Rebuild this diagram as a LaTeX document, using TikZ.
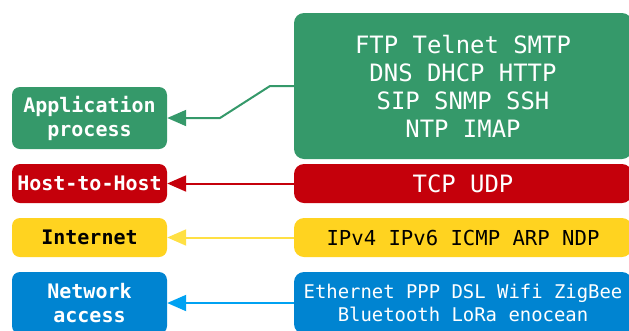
\documentclass[tikz,border=0pt]{standalone}
\usepackage{fontspec}
\newfontfamily\monofont{DejaVu Sans Mono}
\usetikzlibrary{arrows.meta}
\definecolor{cgreen}{HTML}{35996A}
\definecolor{cred}{HTML}{C5000B}
\definecolor{cyellow}{HTML}{FFD320}
\definecolor{cblue}{HTML}{0084D1}
\definecolor{cyellowline}{HTML}{FFE044}
\definecolor{cblueline}{HTML}{00A2F2}
\tikzset{
  layerbox/.style={rectangle, rounded corners=8pt, inner sep=0pt, minimum width=155pt, align=center, font=\monofont\bfseries\fontsize{20}{24}\selectfont},
  protobox/.style={rectangle, rounded corners=10pt, inner sep=0pt, minimum width=338pt, align=center},
  conn/.style={line width=2pt, -{Triangle[length=19pt,width=16pt]}},
}
\begin{document}
\begin{tikzpicture}[x=1pt,y=-1pt]
\useasboundingbox (0,0) rectangle (629,330);
\begin{scope}
\clip (0,0) rectangle (629,330);
% left layer boxes
\node[layerbox, fill=cgreen, text=white, minimum height=62pt] (app) at (89.5,118) {Application\\process};
\node[layerbox, fill=cred, text=white, minimum height=39pt] (host) at (89.5,183.5) {Host-to-Host};
\node[layerbox, fill=cyellow, text=black, minimum height=39pt] (inet) at (89.5,237.5) {Internet};
\node[layerbox, fill=cblue, text=white, minimum height=62pt] (net) at (89.5,303) {Network\\access};
% right protocol boxes
\node[protobox, fill=cgreen, text=white, minimum height=146pt, font=\monofont\fontsize{23.9}{28}\selectfont] (papp) at (463,86) {FTP Telnet SMTP\\DNS DHCP HTTP\\SIP SNMP SSH\\NTP IMAP};
\node[protobox, fill=cred, text=white, minimum height=39pt, font=\monofont\fontsize{23.9}{28}\selectfont] (phost) at (463,183.5) {TCP UDP};
\node[protobox, fill=cyellow, text=black, minimum height=39pt, font=\monofont\fontsize{20.6}{24}\selectfont] (pinet) at (463,237.5) {IPv4 IPv6 ICMP ARP NDP};
\node[protobox, fill=cblue, text=white, minimum height=62pt, font=\monofont\fontsize{18.9}{22.5}\selectfont] (pnet) at (463,303) {Ethernet PPP DSL Wifi ZigBee\\Bluetooth LoRa enocean};
% connectors
\coordinate (b1) at (270,86);
\coordinate (b2) at (220,118);
\draw[conn, cgreen, line join=round] (papp.west) -- (b1) -- (b2) -- (app.east);
\draw[conn, cred] (phost.west) -- (host.east);
\draw[conn, cyellowline] (pinet.west) -- (inet.east);
\draw[conn, cblueline] (pnet.west) -- (net.east);
\end{scope}
\end{tikzpicture}
\end{document}
